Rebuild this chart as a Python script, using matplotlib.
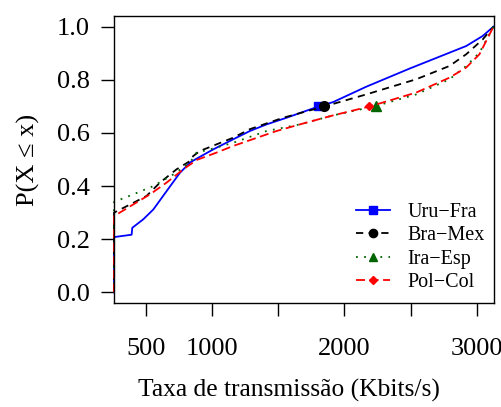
import matplotlib
matplotlib.use("Agg")
import matplotlib.pyplot as plt

plt.rcParams['font.family'] = ['Liberation Serif', 'DejaVu Serif']

# ECDF curves of the transmission rate (Kbits/s) for each match
uru_x = [261, 261, 394, 399, 482, 558, 658, 759, 834, 884, 1010, 1161, 1286, 1412,
         1563, 1802, 1915, 2166, 2492, 2794, 2920, 3045, 3126]
uru_y = [0.0, 0.208, 0.217, 0.243, 0.275, 0.312, 0.381, 0.45, 0.488, 0.503, 0.538,
         0.576, 0.607, 0.632, 0.657, 0.699, 0.716, 0.774, 0.842, 0.902, 0.927, 0.965, 1.0]

bra_x = [261, 261, 407, 507, 608, 733, 834, 859, 909, 1035, 1161, 1286, 1537,
         1844, 2166, 2543, 2794, 2920, 3045, 3126]
bra_y = [0.0, 0.30, 0.337, 0.363, 0.413, 0.463, 0.494, 0.513, 0.532, 0.557, 0.582,
         0.614, 0.657, 0.699, 0.745, 0.802, 0.852, 0.896, 0.952, 1.0]

ira_x = [261, 261, 407, 558, 709, 834, 884, 985, 1161, 1412, 1663, 1915,
         2236, 2543, 2794, 2920, 3020, 3126]
ira_y = [0.0, 0.34, 0.369, 0.40, 0.444, 0.488, 0.526, 0.538, 0.563, 0.607, 0.632,
         0.666, 0.701, 0.745, 0.802, 0.852, 0.902, 1.0]

pol_x = [261, 261, 407, 533, 658, 784, 884, 1035, 1161, 1487, 1663, 1915,
         2186, 2543, 2794, 2920, 3020, 3126]
pol_y = [0.0, 0.287, 0.331, 0.369, 0.413, 0.463, 0.498, 0.526, 0.551, 0.607, 0.632,
         0.666, 0.699, 0.752, 0.808, 0.846, 0.896, 1.0]

# one highlighted point per curve
mark_x = [1802, 1844, 2236, 2186]
mark_y = [0.70, 0.70, 0.70, 0.70]

labels = ['Uru\u2212Fra', 'Bra\u2212Mex', 'Ira\u2212Esp', 'Pol\u2212Col']
xticks = [500, 1000, 1500, 2000, 2500, 3000]
xticklabels = ['500', '1000', '', '2000', '', '3000']
yticks = [0.0, 0.2, 0.4, 0.6, 0.8, 1.0]

series = [
    (uru_x, uru_y, 'blue', '-', 's', 6),
    (bra_x, bra_y, 'black', (0, (4, 3)), 'o', 7),
    (ira_x, ira_y, '#006400', (0, (1, 3.5)), '^', 7),
    (pol_x, pol_y, 'red', (0, (5, 2.5)), 'D', 4.5),
]

fig = plt.figure(figsize=(5.02, 4.07), dpi=100)
ax = fig.add_axes([0.2271, 0.2555, 0.7570, 0.7052])

handles = []
for i, (xs, ys, col, ls, mk, ms) in enumerate(series):
    ax.plot(xs, ys, color=col, linestyle=ls, lw=1.3, clip_on=False)
    ax.plot(mark_x[i], mark_y[i], marker=mk, color=col, ms=ms, linestyle='none')
    h, = ax.plot([], [], color=col, linestyle=ls, lw=1.3, marker=mk, ms=ms * 0.85)
    handles.append(h)

ax.set_xlim(261, 3130)
ax.set_ylim(-0.04, 1.04)
ax.set_xticks(xticks)
ax.set_xticklabels(xticklabels)
ax.set_yticks(yticks)
ax.set_yticklabels(['%.1f' % v for v in yticks])
ax.tick_params(direction='out', length=9.5, width=1, labelsize=19)
ax.tick_params(axis='x', pad=16)
ax.tick_params(axis='y', pad=8)
for s in ax.spines.values():
    s.set_linewidth(1)

ax.set_xlabel('Taxa de transmissão (Kbits/s)', fontsize=18.4)
ax.xaxis.set_label_coords(0.46, -0.265)
ax.set_ylabel('P(X ≤ x)', fontsize=19, labelpad=12)

ax.legend(handles, labels, loc='upper left', bbox_to_anchor=(0.61, 0.385),
          frameon=False, fontsize=14.5, handlelength=1.7, handletextpad=0.85,
          labelspacing=0.22, borderpad=0, numpoints=1)

fig.savefig('out.png', dpi=100)
